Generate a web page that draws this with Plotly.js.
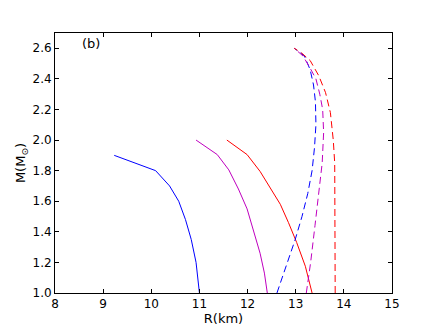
<!DOCTYPE html>
<html>
<head>
<meta charset="utf-8">
<script src="https://cdn.plot.ly/plotly-3.0.1.min.js"></script>
<style>
  html, body { margin: 0; padding: 0; background: #fff; }
  #grafico { width: 436px; height: 327px; }
</style>
</head>
<body>
<div id="grafico"></div>
<script>
// Curvas M-R (b)
const rAzul = [9.23, 10.09, 10.38, 10.57, 10.71, 10.83, 10.93, 11.0];
const mAzul = [1.90, 1.80, 1.70, 1.60, 1.48, 1.35, 1.20, 1.0];

const rMagenta = [10.93, 11.37, 11.61, 11.81, 11.99, 12.12, 12.26, 12.35, 12.41];
const mMagenta = [2.00, 1.905, 1.805, 1.68, 1.55, 1.415, 1.26, 1.13, 1.0];

const rRojo = [11.57, 11.99, 12.26, 12.47, 12.68, 12.85, 13.02, 13.20, 13.34];
const mRojo = [2.00, 1.905, 1.795, 1.69, 1.58, 1.46, 1.33, 1.175, 1.0];

const rAzulDis = [12.61, 12.80, 12.99, 13.13, 13.25, 13.34, 13.39, 13.42, 13.41, 13.37, 13.30, 13.18, 12.97];
const mAzulDis = [1.0, 1.17, 1.35, 1.50, 1.65, 1.80, 1.95, 2.10, 2.25, 2.36, 2.46, 2.55, 2.60];

const rMagentaDis = [13.22, 13.31, 13.40, 13.48, 13.55, 13.58, 13.56, 13.50, 13.42, 13.30, 13.15, 12.97];
const mMagentaDis = [1.0, 1.20, 1.44, 1.65, 1.85, 2.05, 2.20, 2.30, 2.40, 2.47, 2.55, 2.60];

const rRojoDis = [13.82, 13.82, 13.82, 13.81, 13.78, 13.72, 13.62, 13.48, 13.30, 13.12, 12.97];
const mRojoDis = [1.0, 1.40, 1.70, 1.85, 2.00, 2.18, 2.31, 2.42, 2.52, 2.57, 2.60];

const ticksX = [8, 9, 10, 11, 12, 13, 14, 15];
const ticksY = [1.0, 1.2, 1.4, 1.6, 1.8, 2.0, 2.2, 2.4, 2.6];

function curva(x, y, color, dash) {
    return {
        x: x, y: y,
        type: 'scatter',
        mode: 'lines',
        line: {color: color, width: 1, dash: dash},
        hoverinfo: 'skip'
    };
}

const trazas = [
    curva(rAzul, mAzul, '#0000ff', 'solid'),
    curva(rMagenta, mMagenta, '#bf00bf', 'solid'),
    curva(rRojo, mRojo, '#ff0000', 'solid'),
    curva(rAzulDis, mAzulDis, '#0000ff', '7px,4px'),
    curva(rMagentaDis, mMagentaDis, '#bf00bf', '7px,4px'),
    curva(rRojoDis, mRojoDis, '#ff0000', '7px,4px')
];

const ejeComun = {
    showgrid: false,
    zeroline: false,
    showline: true,
    linecolor: '#000',
    linewidth: 1,
    mirror: 'ticks',
    ticks: 'inside',
    ticklen: 4,
    tickcolor: '#000',
    tickfont: {size: 12, color: '#000'}
};

const layout = {
    width: 436,
    height: 327,
    margin: {l: 55, r: 44, t: 33, b: 34},
    paper_bgcolor: '#fff',
    plot_bgcolor: '#fff',
    showlegend: false,
    font: {family: 'DejaVu Sans', size: 12, color: '#000'},
    xaxis: Object.assign({}, ejeComun, {
        range: [8, 15],
        tickvals: ticksX,
        ticktext: ticksX.map(String),
        title: {text: 'R(km)', font: {size: 13}, standoff: 2}
    }),
    yaxis: Object.assign({}, ejeComun, {
        range: [1.0, 2.7],
        tickvals: ticksY,
        ticktext: ticksY.map(v => v.toFixed(1)),
        title: {text: 'M(M<sub>⊙</sub>)', font: {size: 13}, standoff: 3}
    }),
    annotations: [{
        x: 8.74, y: 2.634,
        xref: 'x', yref: 'y',
        text: '(b)',
        showarrow: false,
        font: {size: 13, color: '#000'}
    }]
};

Plotly.newPlot('grafico', trazas, layout, {displayModeBar: false, staticPlot: true});
</script>
</body>
</html>
